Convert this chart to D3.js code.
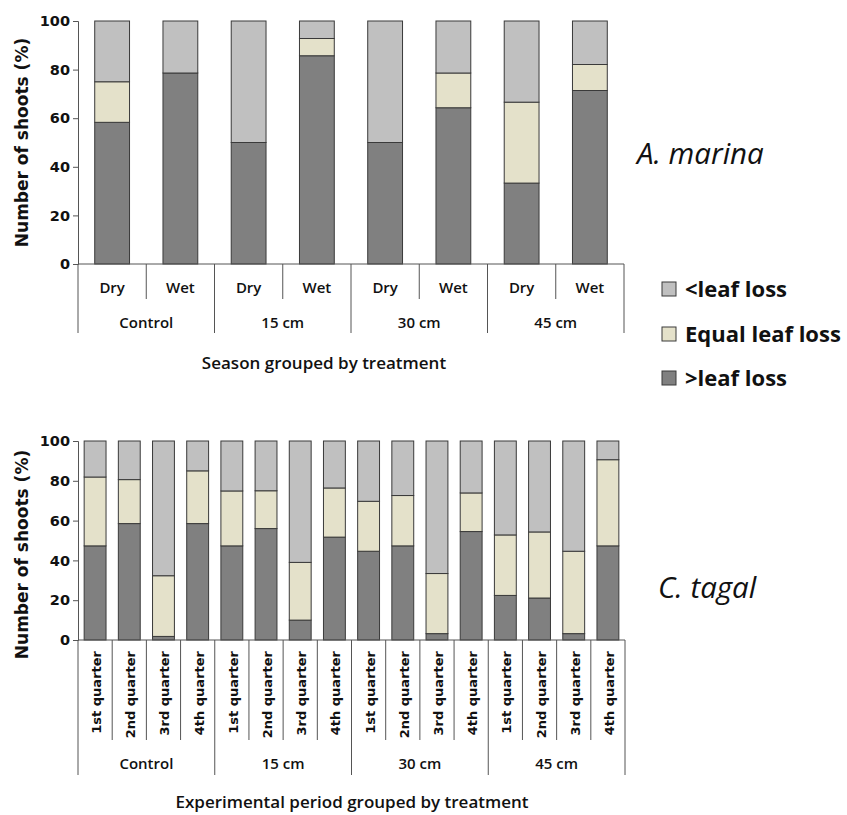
<!DOCTYPE html>
<html>
<head>
<meta charset="utf-8">
<script src="https://cdn.jsdelivr.net/npm/d3@7"></script>
<style>
  body { margin: 0; background: #fff; }
  svg { display: block; }
</style>
</head>
<body>
<svg id="chart" width="847" height="815"></svg>
<script>
// ---- data ----
const groups = ["Control", "15 cm", "30 cm", "45 cm"];
const seasons = ["Dry", "Wet"];
const quarters = ["1st quarter", "2nd quarter", "3rd quarter", "4th quarter"];
const seriesKeys = ["more", "equal", "less"];
const legendLabels = ["<leaf loss", "Equal leaf loss", ">leaf loss"];
const yTicks = [0, 20, 40, 60, 80, 100];

// A. marina, by season within treatment
const marinaMore  = [58.3, 78.6, 50, 85.7, 50, 64.3, 33.3, 71.4];
const marinaEqual = [16.7, 0, 0, 7.1, 0, 14.3, 33.3, 10.7];
const marinaLess  = [25, 21.4, 50, 7.2, 50, 21.4, 33.4, 17.9];

// C. tagal, by quarter within treatment
const tagalMore  = [47.3, 58.5, 1.8, 58.5, 47.3, 56, 10, 51.7, 44.6, 47.3, 3.2, 54.5, 22.4, 21.1, 3.2, 47.3];
const tagalEqual = [34.6, 22.1, 30.5, 26.5, 27.6, 19, 29, 24.7, 25.1, 25.3, 30.2, 19.4, 30.4, 33.2, 41.4, 43.3];
const tagalLess  = [18.1, 19.4, 67.7, 15, 25.1, 25, 61, 23.6, 30.3, 27.4, 66.6, 26.1, 47.2, 45.7, 55.4, 9.4];

const colors = {more: "#808080", equal: "#e4e1ca", less: "#c0c0c0"};
const stroke = "#3a3a3a";

const svg = d3.select("#chart");

function buildRows(subs, more, equal, less) {
    const rows = [];
    groups.forEach((g, gi) => {
        subs.forEach((s, si) => {
            const i = gi * subs.length + si;
            rows.push({group: g, sub: s, key: g + "|" + s, more: more[i], equal: equal[i], less: less[i]});
        });
    });
    return rows;
}

function drawChart(opt) {
    const rows = buildRows(opt.subs, opt.more, opt.equal, opt.less);
    const x = d3.scaleBand()
        .domain(rows.map(d => d.key))
        .range([opt.left, opt.right])
        .padding(0);
    const y = d3.scaleLinear()
        .domain([0, 100])
        .range([opt.bottom, opt.top]);
    const barW = x.bandwidth() * opt.barFrac;

    const stack = d3.stack().keys(seriesKeys)(rows);
    const g = svg.append("g");

    g.selectAll("g.layer")
        .data(stack)
        .enter().append("g")
        .attr("class", "layer")
        .attr("fill", d => colors[d.key])
        .selectAll("rect")
        .data(d => d)
        .enter().append("rect")
        .attr("x", d => x(d.data.key) + (x.bandwidth() - barW) / 2)
        .attr("y", d => y(d[1]))
        .attr("width", barW)
        .attr("height", d => y(d[0]) - y(d[1]))
        .attr("stroke", stroke)
        .attr("stroke-width", 1);

    // y axis
    const yAxis = g.append("g")
        .attr("transform", `translate(${opt.left},0)`)
        .call(d3.axisLeft(y).tickValues(yTicks).tickSize(5).tickPadding(3));
    yAxis.select(".domain").attr("stroke", "#555");
    yAxis.selectAll(".tick line").attr("stroke", "#555");
    yAxis.selectAll("text")
        .attr("font-family", "DejaVu Sans")
        .attr("font-weight", "bold")
        .attr("font-size", 14.5)
        .attr("fill", "#111");

    // x axis line
    g.append("line")
        .attr("x1", opt.left).attr("x2", opt.right)
        .attr("y1", opt.bottom).attr("y2", opt.bottom)
        .attr("stroke", "#555");

    // category separators
    rows.forEach((d, i) => {
        const xs = x(d.key);
        const isGroupEdge = i % opt.subs.length === 0;
        g.append("line")
            .attr("x1", xs).attr("x2", xs)
            .attr("y1", opt.bottom)
            .attr("y2", isGroupEdge ? opt.groupLineEnd : opt.subLineEnd)
            .attr("stroke", "#555");
    });
    g.append("line")
        .attr("x1", opt.right).attr("x2", opt.right)
        .attr("y1", opt.bottom).attr("y2", opt.groupLineEnd)
        .attr("stroke", "#555");

    // sub labels
    rows.forEach(d => {
        const cx = x(d.key) + x.bandwidth() / 2;
        if (opt.rotate) {
            g.append("text")
                .attr("transform", `translate(${cx + 6},${opt.bottom + 11}) rotate(-90)`)
                .attr("text-anchor", "end")
                .attr("font-family", "DejaVu Sans")
                .attr("font-weight", "bold")
                .attr("font-size", 13)
                .attr("fill", "#111")
                .text(d.sub);
        } else {
            g.append("text")
                .attr("x", cx).attr("y", opt.subLabelY)
                .attr("text-anchor", "middle")
                .attr("font-family", "Open Sans")
                .attr("font-weight", 600)
                .attr("font-size", 15)
                .attr("fill", "#111")
                .text(d.sub);
        }
    });

    // group labels
    const n = opt.subs.length;
    groups.forEach((gr, gi) => {
        const x0 = x(rows[gi * n].key);
        const x1 = x(rows[gi * n + n - 1].key) + x.bandwidth();
        g.append("text")
            .attr("x", (x0 + x1) / 2).attr("y", opt.groupLabelY)
            .attr("text-anchor", "middle")
            .attr("font-family", "Open Sans")
            .attr("font-weight", 600)
            .attr("font-size", 15)
            .attr("fill", "#111")
            .text(gr);
    });

    // axis titles
    g.append("text")
        .attr("x", opt.titleX).attr("y", opt.titleY)
        .attr("text-anchor", "middle")
        .attr("font-family", "Open Sans")
        .attr("font-weight", 600)
        .attr("font-size", 17)
        .attr("fill", "#111")
        .text(opt.xTitle);

    g.append("text")
        .attr("transform", `translate(28,${(opt.top + opt.bottom) / 2 + opt.yTitleShift}) rotate(-90)`)
        .attr("text-anchor", "middle")
        .attr("font-family", "DejaVu Sans")
        .attr("font-weight", "bold")
        .attr("font-size", 17)
        .attr("fill", "#111")
        .text("Number of shoots (%)");

    // species
    g.append("text")
        .attr("x", opt.speciesX).attr("y", opt.speciesY)
        .attr("font-family", "Open Sans")
        .attr("font-style", "italic")
        .attr("font-size", 29.5)
        .attr("fill", "#111")
        .text(opt.species);
}

drawChart({
    subs: seasons, more: marinaMore, equal: marinaEqual, less: marinaLess,
    left: 78, right: 624, top: 21, bottom: 264, barFrac: 0.51,
    rotate: false, subLabelY: 293, subLineEnd: 299, groupLabelY: 328, groupLineEnd: 333,
    xTitle: "Season grouped by treatment", titleX: 324, titleY: 369,
    yTitleShift: 0,
    species: "A. marina", speciesX: 637, speciesY: 164
});

drawChart({
    subs: quarters, more: tagalMore, equal: tagalEqual, less: tagalLess,
    left: 78, right: 625, top: 441, bottom: 640, barFrac: 0.64,
    rotate: true, subLineEnd: 740, groupLabelY: 769, groupLineEnd: 775,
    xTitle: "Experimental period grouped by treatment", titleX: 352, titleY: 808,
    yTitleShift: 14,
    species: "C. tagal", speciesX: 658, speciesY: 598
});

// legend
const legend = svg.append("g");
const legendKeys = ["less", "equal", "more"];
const legendY = [289, 334, 378];
legendKeys.forEach((k, i) => {
    legend.append("rect")
        .attr("x", 662).attr("y", legendY[i] - 7)
        .attr("width", 14).attr("height", 14)
        .attr("fill", colors[k])
        .attr("stroke", stroke);
    legend.append("text")
        .attr("x", 685).attr("y", legendY[i])
        .attr("dy", "0.35em")
        .attr("font-family", "Open Sans")
        .attr("font-weight", "bold")
        .attr("font-size", 22)
        .attr("fill", "#111")
        .text(legendLabels[i]);
});
</script>
</body>
</html>
